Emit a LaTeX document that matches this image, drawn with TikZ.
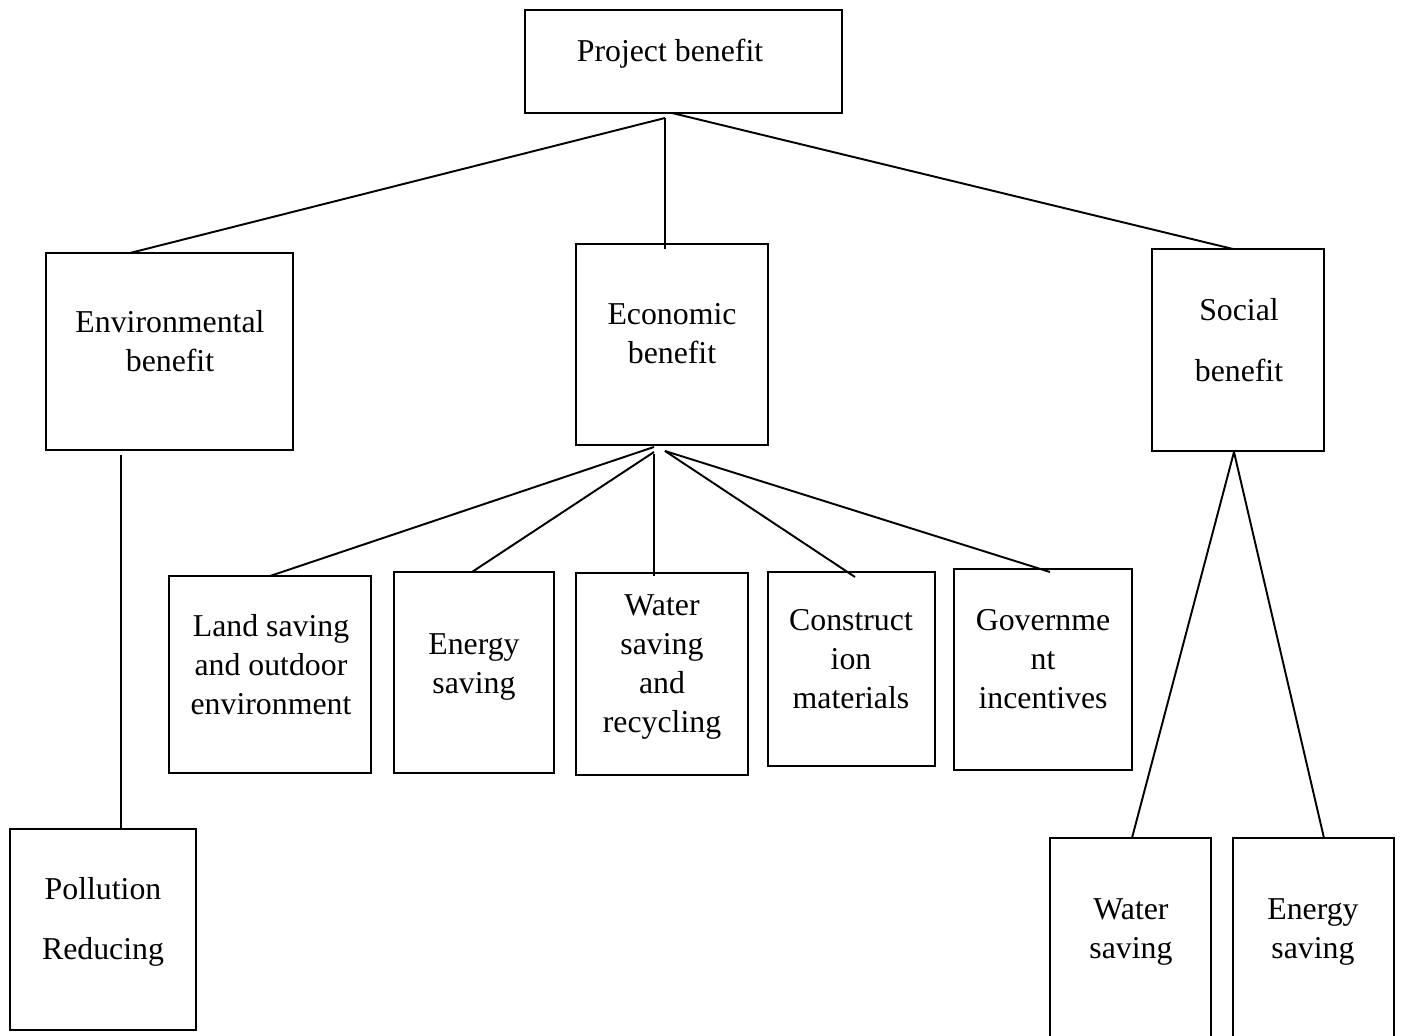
\documentclass[tikz,border=0pt]{standalone}
\usepackage{fontspec}
\setmainfont{Liberation Serif}
\usetikzlibrary{calc}
\begin{document}
\begin{tikzpicture}[x=0.1mm,y=-0.1mm,
  box/.style={draw, line width=0.6pt, inner sep=0pt, outer sep=0pt},
  lbl/.style={inner sep=0pt, align=center, font=\fontsize{9.05}{11.1}\selectfont},
  link/.style={line width=0.55pt}]
\clip (0,0) rectangle (1403,1036);
\fill[white] (0,0) rectangle (1403,1036);

% boxes
\node[box, minimum width=31.7mm, minimum height=10.3mm] (pb)   at (683.5,61.5) {};
\node[box, minimum width=24.7mm, minimum height=19.7mm] (env)  at (169.5,351.5) {};
\node[box, minimum width=19.2mm, minimum height=20.1mm] (eco)  at (672,344.5) {};
\node[box, minimum width=17.2mm, minimum height=20.2mm] (soc)  at (1238,350) {};
\node[box, minimum width=20.2mm, minimum height=19.7mm] (land) at (270,674.5) {};
\node[box, minimum width=16.0mm, minimum height=20.1mm] (ens)  at (474,672.5) {};
\node[box, minimum width=17.2mm, minimum height=20.2mm] (wsr)  at (662,674) {};
\node[box, minimum width=16.7mm, minimum height=19.4mm] (con)  at (851.5,669) {};
\node[box, minimum width=17.8mm, minimum height=20.1mm] (gov)  at (1043,669.5) {};
\node[box, minimum width=18.6mm, minimum height=20.1mm] (pol)  at (103,929.5) {};
\node[box, minimum width=16.1mm, minimum height=22.2mm] (ws)   at (1130.5,949) {};
\node[box, minimum width=16.1mm, minimum height=22.2mm] (es)   at (1313.5,949) {};

% labels
\node[lbl] (tpb)   at (670,54)   {Project benefit};
\node[lbl] (tenv)  at (170,341)  {Environmental\\benefit};
\node[lbl] (teco)  at (672,334)  {Economic\\benefit};
\node[lbl] (tsoc)  at (1239,340) {Social\\[2.2mm]benefit};
\node[lbl] (tland) at (271,665)  {Land saving\\and outdoor\\environment};
\node[lbl] (tens)  at (474,667)  {Energy\\saving};
\node[lbl] (twsr)  at (662,667)  {Water\\saving\\and\\recycling};
\node[lbl] (tcon)  at (851,659)  {Construct\\ion\\materials};
\node[lbl] (tgov)  at (1043,659) {Governme\\nt\\incentives};
\node[lbl] (tpol)  at (103,922)  {Pollution\\[2.1mm]Reducing};
\node[lbl] (tws)   at (1131,932) {Water\\saving};
\node[lbl] (tes)   at (1313,932) {Energy\\saving};

% branch points
\coordinate (hub) at ($(pb.south)+(-18.5,5)$);
\coordinate (ea)  at ($(eco.south)+(-18,2)$);
\coordinate (eb)  at ($(eco.south)+(-7,6)$);
\coordinate (sa)  at ($(soc.south)+(-4,1)$);

% top level
\draw[link] (hub) -- ($(env.north west)+(84,0)$);
\draw[link] (hub) -- ($(eco.north)+(-7,5)$);
\draw[link] ($(pb.south)+(-11.5,0)$) -- ($(soc.north)+(-5,0)$);

% environmental branch
\draw[link] ($(env.south)+(-48.5,5)$) -- ($(pol.north)+(18,0)$);

% economic branch
\draw[link] (ea) -- (land.north);
\draw[link] ($(ea)+(0,5)$) -- ($(ens.north)+(-2,0)$);
\draw[link] ($(ea)+(0,7)$) -- ($(wsr.north)+(-8,3)$);
\draw[link] (eb) -- ($(con.north)+(3.5,5)$);
\draw[link] (eb) -- ($(gov.north)+(7,3)$);

% social branch
\draw[link] (sa) -- ($(ws.north)+(1.5,0)$);
\draw[link] (sa) -- ($(es.north)+(10.5,0)$);
\end{tikzpicture}
\end{document}
